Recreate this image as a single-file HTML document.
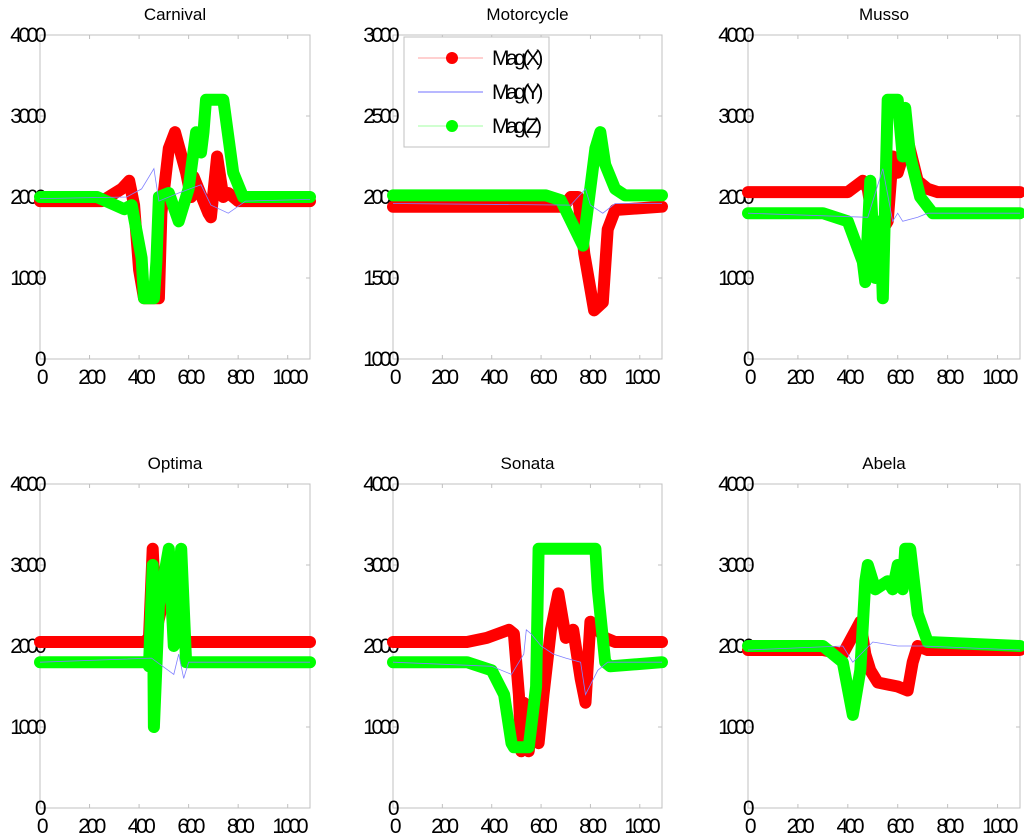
<!DOCTYPE html>
<html><head><meta charset="utf-8"><style>
body{margin:0;background:#fff;}
svg{display:block;}
text{font-family:"Liberation Sans",sans-serif;fill:#000;}
.tick{font-size:21px;letter-spacing:-3.5px;}
.ttl{font-size:17px;}
</style></head><body>
<svg id="fig" width="1024" height="834" viewBox="0 0 1024 834" xmlns="http://www.w3.org/2000/svg"></svg>
<script>
const titles=["Carnival","Motorcycle","Musso","Optima","Sonata","Abela"];
const yDomains=[[0,4000],[1000,3000],[0,4000],[0,4000],[0,4000],[0,4000]];
const yTicks=[[0,1000,2000,3000,4000],[1000,1500,2000,2500,3000],[0,1000,2000,3000,4000],[0,1000,2000,3000,4000],[0,1000,2000,3000,4000],[0,1000,2000,3000,4000]];
const xTicks=[0,200,400,600,800,1000];
const carnivalX=[[0,1950],[250,1950],[330,2100],[360,2200],[380,1900],[400,1100],[420,750],[480,750],[490,1800],[520,2600],[545,2800],[590,2300],[610,2000],[620,2250],[680,1800],[690,1750],[715,2500],[740,2000],[760,2050],[800,1950],[1090,1950]];
const carnivalY=[[0,1980],[350,2000],[410,2100],[460,2350],[480,1950],[560,2050],[650,2150],[690,1900],[760,1800],[830,1950],[1090,1970]];
const carnivalZ=[[0,2000],[230,2000],[340,1850],[370,1900],[410,1250],[420,750],[460,750],[470,1200],[480,2000],[520,2050],[560,1700],[600,2100],[630,2800],[650,2550],[660,2800],[670,3200],[740,3200],[780,2300],[820,2000],[1090,2000]];
const motoX=[[0,1940],[690,1940],[720,2000],[750,2000],[775,1650],[815,1300],[850,1350],[870,1800],[900,1920],[1090,1940]];
const motoY=[[0,1960],[720,1950],[780,2050],[800,1950],[850,1900],[900,1960],[1090,1960]];
const motoZ=[[0,2010],[620,2010],[680,1980],[770,1700],[820,2300],[840,2400],[860,2200],[900,2050],[940,2010],[1090,2010]];
const mussoX=[[0,2060],[400,2060],[460,2200],[480,2100],[500,1700],[540,1600],[560,1700],[580,2500],[600,2300],[640,2700],[680,2200],[720,2100],[760,2060],[1090,2060]];
const mussoY=[[0,1800],[480,1750],[540,2350],[580,1700],[600,1800],[620,1700],[680,1750],[720,1800],[1090,1800]];
const mussoZ=[[0,1800],[300,1800],[400,1700],[460,1200],[470,950],[490,2200],[510,1000],[530,1700],[540,750],[560,3200],[600,3200],[620,2500],[630,3100],[650,2500],[690,2000],[740,1800],[1090,1800]];
const optimaX=[[0,2050],[420,2050],[440,2100],[455,3200],[470,2200],[500,2600],[520,2800],[560,2200],[580,2050],[1090,2050]];
const optimaY=[[0,1800],[450,1850],[540,1650],[560,1900],[580,1600],[600,1800],[1090,1800]];
const optimaZ=[[0,1800],[430,1800],[440,1750],[455,3000],[460,1000],[480,2500],[520,3200],[540,2000],[570,3200],[590,1800],[1090,1800]];
const sonataX=[[0,2050],[300,2050],[380,2100],[470,2200],[490,2150],[510,1400],[520,700],[530,1300],[550,700],[570,1300],[590,800],[610,1400],[640,2200],[670,2650],[700,2100],[730,2200],[760,1600],[780,1300],[800,2300],[830,2200],[860,2100],[900,2050],[1090,2050]];
const sonataY=[[0,1800],[400,1750],[480,1650],[530,1900],[540,2200],[560,2150],[600,2000],[650,1900],[700,1850],[760,1800],[780,1400],[830,1700],[870,1800],[1090,1800]];
const sonataZ=[[0,1800],[300,1800],[400,1700],[450,1400],[480,800],[490,750],[550,750],[560,1000],[580,1500],[590,3200],[820,3200],[830,2700],[860,1800],[880,1750],[1090,1800]];
const abelaX=[[0,1950],[300,1950],[380,1900],[450,2300],[470,1900],[490,1700],[520,1550],[600,1500],[640,1450],[660,1800],[680,2000],[720,1950],[1090,1950]];
const abelaY=[[0,1950],[380,2000],[420,1800],[500,2050],[600,2000],[700,2000],[1090,1950]];
const abelaZ=[[0,2000],[300,2000],[380,1800],[420,1150],[450,1700],[470,2800],[480,3000],[510,2700],[560,2800],[580,2700],[600,3000],[620,2700],[630,3200],[650,3200],[680,2400],[720,2050],[1090,2000]];
const seriesX=[carnivalX,motoX,mussoX,optimaX,sonataX,abelaX];
const seriesY=[carnivalY,motoY,mussoY,optimaY,sonataY,abelaY];
const seriesZ=[carnivalZ,motoZ,mussoZ,optimaZ,sonataZ,abelaZ];

const NS="http://www.w3.org/2000/svg";
const svg=document.getElementById('fig');
function el(t,a,p){const e=document.createElementNS(NS,t);for(const k in a)e.setAttribute(k,a[k]);(p||svg).appendChild(e);return e;}
const boxes=[[40,35,310,359],[393,35,662,359],[748,35,1020,359],[40,484,310,808],[393,484,662,808],[748,484,1020,808]];
const xMax=1090;
for(let i=0;i<6;i++){
  const [L,T,R,B]=boxes[i];const [y0,y1]=yDomains[i];
  const sx=v=>L+(v/xMax)*(R-L);
  const sy=v=>B-(v-y0)/(y1-y0)*(B-T);
  const g=el('g',{});
  
  
  const r=el('rect',{x:L,y:T,width:R-L,height:B-T,fill:'#fff',stroke:'#c0c0c0','stroke-width':1},g);
  
  const t=el('text',{x:(L+R)/2,y:T-15,'text-anchor':'middle',class:'ttl'},g);t.textContent=titles[i];
  
  xTicks.forEach(v=>{const x=sx(v);
    el('line',{x1:x,x2:x,y1:B,y2:B-4,stroke:'#c0c0c0'},g);el('line',{x1:x,x2:x,y1:T,y2:T+4,stroke:'#c0c0c0'},g);
    const tx=el('text',{x:x+1,y:B+25,'text-anchor':'middle',class:'tick'},g);tx.textContent=v;
    });
  yTicks[i].forEach(v=>{const y=sy(v);
    el('line',{x1:L,x2:L+4,y1:y,y2:y,stroke:'#c0c0c0'},g);el('line',{x1:R,x2:R-4,y1:y,y2:y,stroke:'#c0c0c0'},g);
    const ty=el('text',{x:L+3,y:y+7,'text-anchor':'end',class:'tick'},g);ty.textContent=v;
    });
  const pts=d=>d.map(p=>sx(p[0]).toFixed(1)+','+sy(p[1]).toFixed(1)).join(' ');
  const px=el('polyline',{points:pts(seriesX[i]),fill:'none',stroke:'#ff0000','stroke-width':12,'stroke-linecap':'round','stroke-linejoin':'round'},g);
  
  const pz=el('polyline',{points:pts(seriesZ[i]),fill:'none',stroke:'#00ff00','stroke-width':12,'stroke-linecap':'round','stroke-linejoin':'round'},g);
  
  const py=el('polyline',{points:pts(seriesY[i]),fill:'none',stroke:'#8080ff','stroke-width':0.8},g);
  
}
// legend
const lg=el('g',{});


el('rect',{x:404,y:37,width:145,height:110,fill:'#fff',stroke:'#c0c0c0'},lg);
const legItems=[["Mag(X)","#ff0000","#ffc0c0",true],["Mag(Y)","#8080ff","#a0a0ff",false],["Mag(Z)","#00ff00","#c0ffc0",true]];
legItems.forEach((it,k)=>{const y=58+k*34;
  el('line',{x1:418,x2:483,y1:y,y2:y,stroke:it[2],'stroke-width':1.5},lg);
  if(it[3])el('circle',{cx:452,cy:y,r:6,fill:it[1]},lg);
  const tx=el('text',{x:492,y:y+7,class:'tick'},lg);tx.textContent=it[0];
  });
</script>
</body></html>
